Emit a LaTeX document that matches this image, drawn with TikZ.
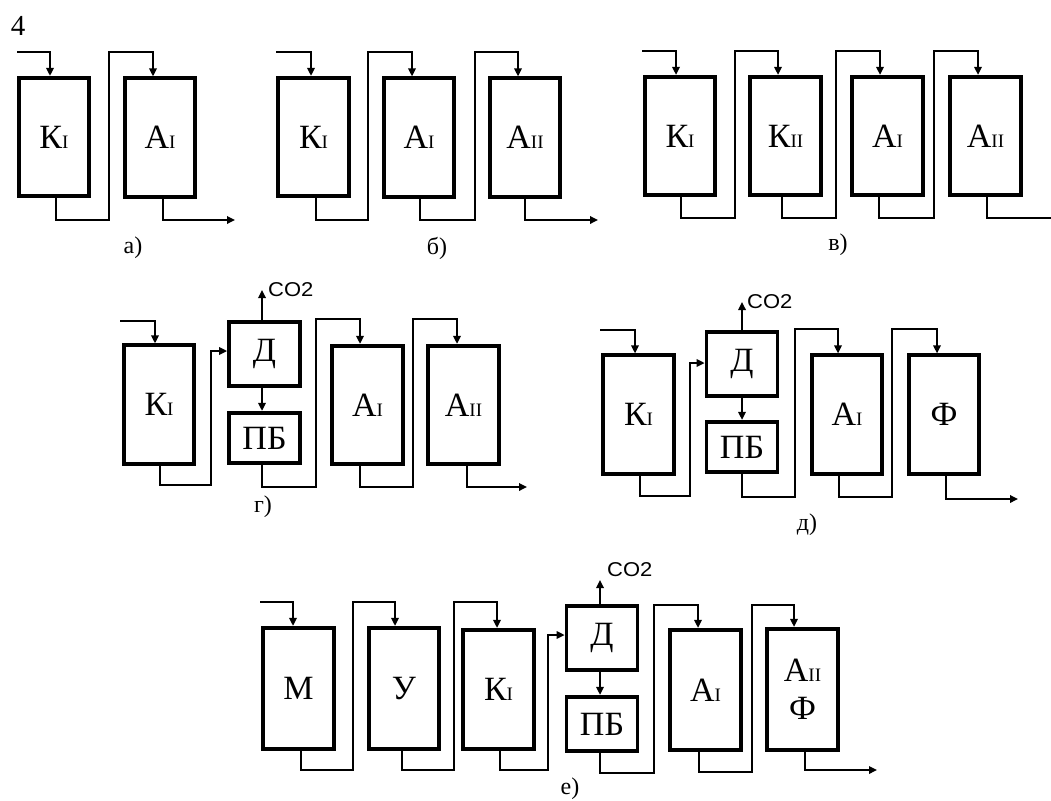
\documentclass[tikz,border=0pt]{standalone}
\usepackage{fontspec}
\setmainfont{Liberation Serif}
\newfontfamily\cofont{Liberation Sans}
\usetikzlibrary{arrows.meta}
\newcommand\sbI[1]{{\fontsize{19}{19}\selectfont #1}}
\begin{document}
\begin{tikzpicture}[x=1pt,y=-1pt,
  tall/.style={draw, line width=3.8pt, minimum width=70.5pt, minimum height=118.5pt, inner sep=0pt, font=\fontsize{34}{36}\selectfont},
  small/.style={draw, line width=3.8pt, minimum width=71pt, inner sep=0pt, font=\fontsize{34}{36}\selectfont},
  conn/.style={line width=1.7pt},
  arr/.style={conn, -{Triangle[length=8pt,width=7.5pt]}},
  caplabel/.style={font=\fontsize{24}{26}\selectfont},
  co/.style={font=\cofont\fontsize{20}{22}\selectfont, anchor=west, inner sep=0pt, xscale=1.1}]
\useasboundingbox (0,0) rectangle (1051,800);
\node[font=\fontsize{29}{31}\selectfont] (num) at (18,26) {4};
% ---- a)
\node[tall] (Ka) at (54,137) {К\sbI{I}};
\node[tall] (Aa) at (160,137.5) {А\sbI{I}};
\coordinate (ina) at (17,52);
\draw[arr] (ina) -| (Ka.north -| 50,0);
\draw[arr] (Ka.south -| 56,0) |- (109,220) -- (109,52) -| (Aa.north -| 153,0);
\coordinate (outa) at (235,220);
\draw[arr] (Aa.south -| 163,0) |- (outa);
\node[caplabel] (la) at (133,248) {а)};
% ---- b)
\node[tall] (Kb) at (313.5,137) {К\sbI{I}};
\node[tall] (Ab1) at (419,137.5) {А\sbI{I}};
\node[tall] (Ab2) at (525,137.5) {А\sbI{II}};
\coordinate (inb) at (276,52);
\draw[arr] (inb) -| (Kb.north -| 311,0);
\draw[arr] (Kb.south -| 316,0) |- (368,220) -- (368,52) -| (Ab1.north -| 412,0);
\draw[arr] (Ab1.south -| 420,0) |- (475,220) -- (475,52) -| (Ab2.north -| 518,0);
\coordinate (outb) at (598,220);
\draw[arr] (Ab2.south -| 525,0) |- (outb);
\node[caplabel] (lb) at (437,248) {б)};
% ---- v)
\node[tall] (Kc) at (680,136) {К\sbI{I}};
\node[tall] (Kc2) at (785.5,136) {К\sbI{II}};
\node[tall] (Ac1) at (887.5,136) {А\sbI{I}};
\node[tall] (Ac2) at (985.5,136) {А\sbI{II}};
\coordinate (inc) at (642,51);
\draw[arr] (inc) -| (Kc.north -| 676,0);
\draw[arr] (Kc.south -| 681,0) |- (735,218) -- (735,51) -| (Kc2.north -| 778,0);
\draw[arr] (Kc2.south -| 782,0) |- (836,218) -- (836,51) -| (Ac1.north -| 880,0);
\draw[arr] (Ac1.south -| 879,0) |- (934,218) -- (934,51) -| (Ac2.north -| 978,0);
\coordinate (outc) at (1051,218);
\draw[conn] (Ac2.south -| 987,0) |- (outc);
\node[caplabel] (lc) at (838,245) {в)};
% ---- g)
\node[tall] (Kd) at (159,404.5) {К\sbI{I}};
\node[small, minimum height=64.5pt] (Dd) at (264.5,354) {Д};
\node[small, minimum height=50.5pt] (Pd) at (264.5,438) {ПБ};
\node[tall] (Ad1) at (367.5,405) {А\sbI{I}};
\node[tall] (Ad2) at (463.5,405) {А\sbI{II}};
\coordinate (ind) at (120,321);
\draw[arr] (ind) -| (Kd.north -| 155,0);
\draw[arr] (Kd.south -| 160,0) |- (211,485) -- (211,351) -- (Dd.west |- 0,351);
\node[co] (cod) at (268,290) {CO2};
\draw[arr] (Dd.north -| 262,0) -- (cod.west -| 262,0);
\draw[arr] (Dd.south -| 262,0) -- (Pd.north -| 262,0);
\draw[arr] (Pd.south -| 262,0) |- (316,487) -- (316,319) -| (Ad1.north -| 360,0);
\draw[arr] (Ad1.south -| 360,0) |- (413,487) -- (413,319) -| (Ad2.north -| 457,0);
\coordinate (outd) at (527,487);
\draw[arr] (Ad2.south -| 467,0) |- (outd);
\node[caplabel] (ld) at (263,507) {г)};
% ---- d)
\node[tall] (Ke) at (638.5,414.5) {К\sbI{I}};
\node[small, minimum height=64.5pt] (De) at (742,364) {Д};
\node[small, minimum height=50.5pt] (Pe) at (742,447) {ПБ};
\node[tall] (Ae) at (847,414.5) {А\sbI{I}};
\node[tall] (Fe) at (944,414.5) {Ф};
\coordinate (ine) at (600,330);
\draw[arr] (ine) -| (Ke.north -| 635,0);
\draw[arr] (Ke.south -| 640,0) |- (690,496) -- (690,363) -- (De.west |- 0,363);
\node[co] (coe) at (747,302) {CO2};
\draw[arr] (De.north -| 742,0) -- (coe.west -| 742,0);
\draw[arr] (De.south -| 742,0) -- (Pe.north -| 742,0);
\draw[arr] (Pe.south -| 742,0) |- (795,497) -- (795,329) -| (Ae.north -| 838,0);
\draw[arr] (Ae.south -| 839,0) |- (892,497) -- (892,329) -| (Fe.north -| 937,0);
\coordinate (oute) at (1018,499);
\draw[arr] (Fe.south -| 946,0) |- (oute);
\node[caplabel] (le) at (807,525) {д)};
% ---- e)
\node[tall, minimum height=121.5pt] (Mf) at (298.5,688.5) {М};
\node[tall, minimum height=121.5pt] (Uf) at (404,688.5) {У};
\node[tall, minimum height=119.5pt] (Kf) at (498.5,689.5) {К\sbI{I}};
\node[small, minimum height=64.5pt] (Df) at (602,638) {Д};
\node[small, minimum height=54.5pt] (Pf) at (602,724) {ПБ};
\node[tall, minimum height=120.5pt] (Af1) at (705.5,690) {А\sbI{I}};
\node[tall, minimum height=121.5pt, align=center] (Af2) at (802.5,689.5) {А\sbI{II}\\[2pt]Ф};
\coordinate (inf) at (260,602);
\draw[arr] (inf) -| (Mf.north -| 293,0);
\draw[arr] (Mf.south -| 301,0) |- (353,770) -- (353,602) -| (Uf.north -| 395,0);
\draw[arr] (Uf.south -| 402,0) |- (454,770) -- (454,602) -| (Kf.north -| 497,0);
\draw[arr] (Kf.south -| 500,0) |- (548,770) -- (548,635) -- (Df.west |- 0,635);
\node[co] (cof) at (607,570) {CO2};
\coordinate (cofend) at (600,580);
\draw[arr] (Df.north -| 600,0) -- (cofend);
\draw[arr] (Df.south -| 600,0) -- (Pf.north -| 600,0);
\draw[arr] (Pf.south -| 600,0) |- (654,773) -- (654,605) -| (Af1.north -| 698,0);
\draw[arr] (Af1.south -| 699,0) |- (752,772) -- (752,605) -| (Af2.north -| 794,0);
\coordinate (outf) at (877,770);
\draw[arr] (Af2.south -| 805,0) |- (outf);
\node[caplabel] (lf) at (570,789) {е)};
\end{tikzpicture}
\end{document}
